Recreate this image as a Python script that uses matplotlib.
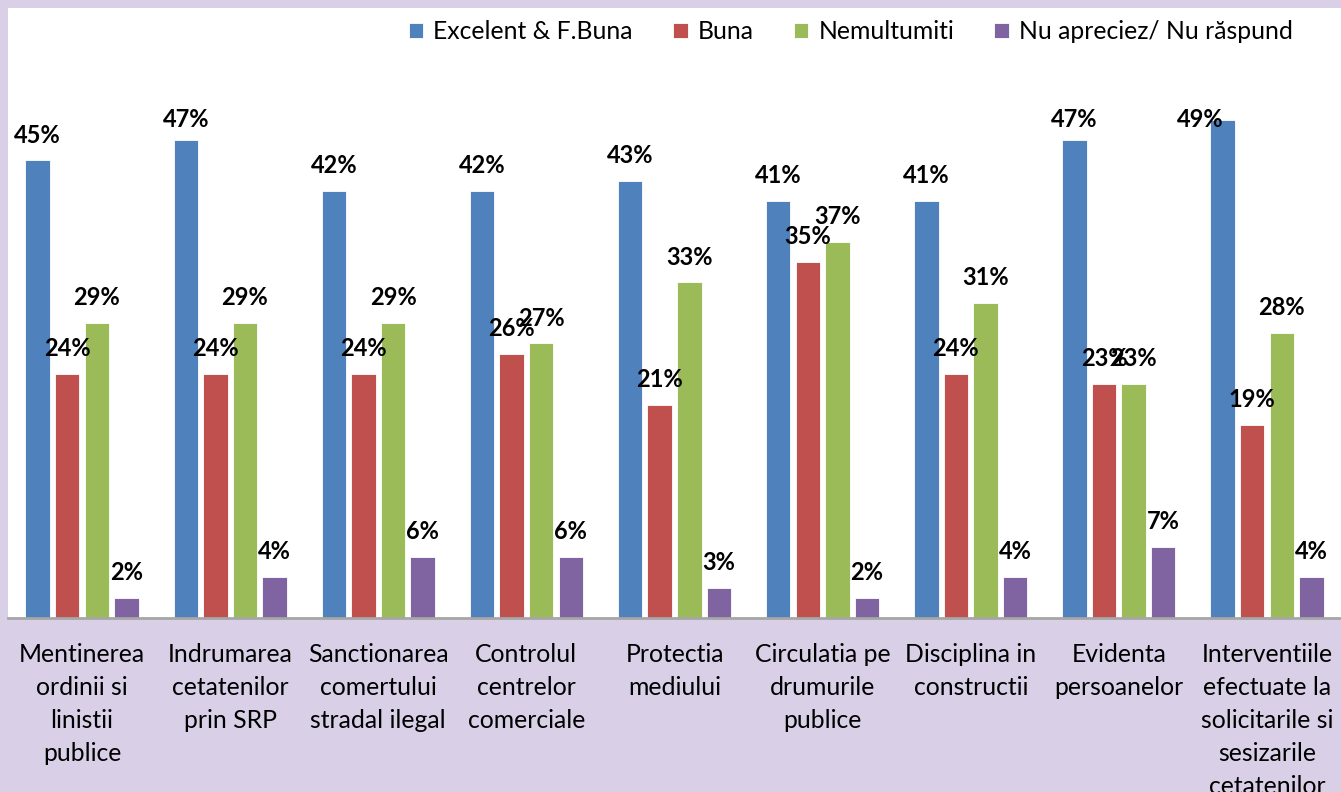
import numpy as np
import matplotlib.pyplot as plt

plt.rcParams["font.family"] = ["Lato", "DejaVu Sans"]

# categorii (axa x)
categorii = [
    "Mentinerea\nordinii si\nlinistii\npublice",
    "Indrumarea\ncetatenilor\nprin SRP",
    "Sanctionarea\ncomertului\nstradal ilegal",
    "Controlul\ncentrelor\ncomerciale",
    "Protectia\nmediului",
    "Circulatia pe\ndrumurile\npublice",
    "Disciplina in\nconstructii",
    "Evidenta\npersoanelor",
    "Interventiile\nefectuate la\nsolicitarile si\nsesizarile\ncetatenilor",
]
serii = ["Excelent & F.Buna", "Buna", "Nemultumiti", "Nu apreciez/ Nu răspund"]

excelent = [0.45, 0.47, 0.42, 0.42, 0.43, 0.41, 0.41, 0.47, 0.49]
buna = [0.24, 0.24, 0.24, 0.26, 0.21, 0.35, 0.24, 0.23, 0.19]
nemultumiti = [0.29, 0.29, 0.29, 0.27, 0.33, 0.37, 0.31, 0.23, 0.28]
nu_raspund = [0.02, 0.04, 0.06, 0.06, 0.03, 0.02, 0.04, 0.07, 0.04]

culori = ["#4F81BD", "#C0504D", "#9BBB59", "#8064A2"]
fundal = "#D9D0E8"

fig = plt.figure(figsize=(13.41, 7.92), dpi=100, facecolor=fundal)
ax = fig.add_axes([8 / 1341, 174 / 792, 1333 / 1341, 610 / 792])
ax.set_facecolor("white")

x = np.arange(len(categorii))
latime = 0.165
pas = 0.2
valori = [excelent, buna, nemultumiti, nu_raspund]

for k, (v, c, nume) in enumerate(zip(valori, culori, serii)):
    pos = x + (k - 1.5) * pas
    ax.bar(pos, v, width=latime, color=c, edgecolor="white", linewidth=0.6, label=nume)
    for xi, vi in zip(pos, v):
        y = min(vi + 0.025, 0.49)
        dx = 0
        if y < vi + 0.01:  # eticheta prea sus -> mutata spre stanga
            dx = -0.15
        ax.text(xi + dx, y, f"{vi * 100:.0f}%", ha="center", va="center",
                fontsize=17, fontweight="bold", color="black")

ax.set_xlim(-0.5, len(categorii) - 0.5)
ax.set_ylim(0, 0.6)
ax.set_yticks([])
ax.set_xticks(x)
ax.set_xticklabels(categorii, fontsize=17.8, linespacing=1.52)
ax.tick_params(axis="x", length=0, pad=18)
for s in ["top", "left", "right"]:
    ax.spines[s].set_visible(False)
ax.spines["bottom"].set_color("#A6A6A6")
ax.spines["bottom"].set_linewidth(2)

fig.legend(loc="upper right", bbox_to_anchor=(1313 / 1341, 792 / 792), ncol=4,
           frameon=False, fontsize=17.8, handlelength=0.6, handleheight=0.6,
           handletextpad=0.4, columnspacing=1.62, borderaxespad=0.42)

fig.savefig("out.png", dpi=100, facecolor=fundal)
